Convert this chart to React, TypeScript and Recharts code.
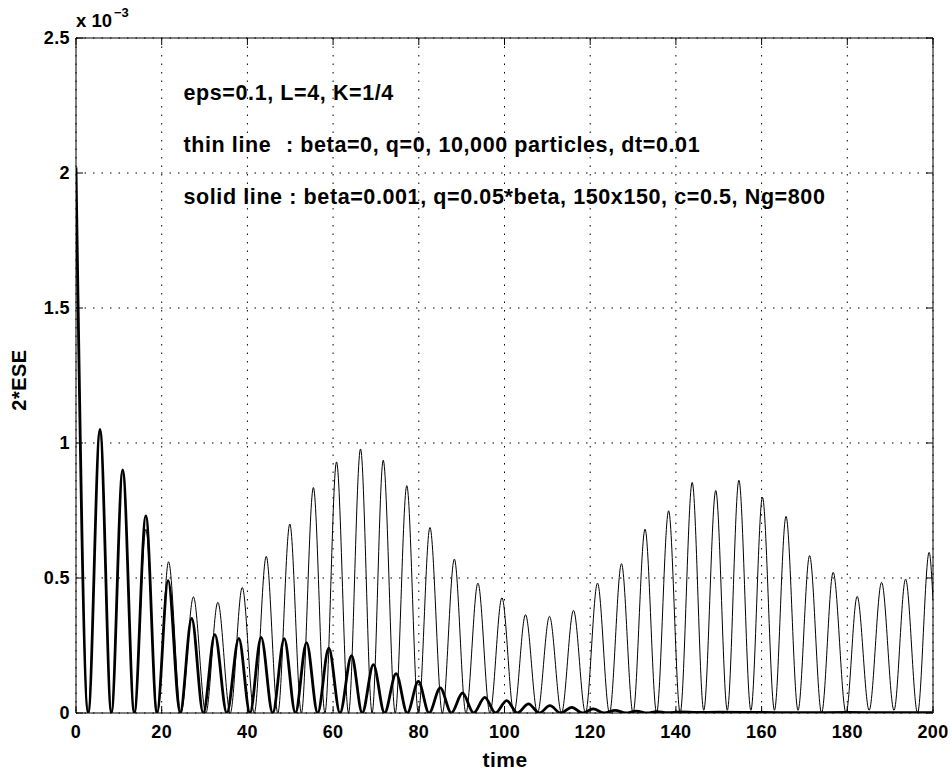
import React from 'react'
import { LineChart, Line, XAxis, YAxis, CartesianGrid, ReferenceLine } from 'recharts'

// values are in units of 1e-3 (axis carries the "x 10^-3" factor)
const thinTime = [
  0, 2.85, 5.6, 8.25, 10.9, 13.6, 16.3, 19.0, 21.6, 24.5, 27.4, 30.3, 33.1, 36.0, 38.8, 41.6,
  44.4, 47.1, 49.9, 52.6, 55.4, 58.1, 60.8, 63.6, 66.4, 69.1, 71.7, 74.5, 77.2, 79.9, 82.6, 85.5,
  88.3, 91.0, 93.8, 96.6, 99.4, 102.2, 104.9, 107.7, 110.5, 113.3, 116.1, 118.9, 121.7, 124.5,
  127.3, 130.0, 132.8, 135.5, 138.3, 141.0, 143.8, 146.5, 149.3, 152.0, 154.7, 157.5, 160.2,
  163.0, 165.7, 168.5, 171.2, 174.0, 176.7, 179.7, 182.3, 185.1, 188.0, 190.9, 193.6, 196.4,
  199.1, 200,
]
const thinValue = [
  2.02, 0, 1.05, 0, 0.9, 0, 0.68, 0, 0.56, 0, 0.43, 0, 0.41, 0, 0.465, 0,
  0.58, 0, 0.7, 0, 0.835, 0, 0.93, 0, 0.978, 0, 0.936, 0, 0.842, 0, 0.687, 0,
  0.57, 0, 0.481, 0, 0.427, 0, 0.364, 0, 0.358, 0, 0.38, 0, 0.481, 0,
  0.553, 0, 0.681, 0, 0.749, 0, 0.854, 0.01, 0.824, 0.01, 0.862, 0.01, 0.799,
  0.01, 0.728, 0.01, 0.583, 0, 0.521, 0, 0.432, 0.01, 0.484, 0.01, 0.496, 0,
  0.595, 0.42,
]

const thickTime = [
  0, 2.85, 5.6, 8.25, 10.9, 13.6, 16.3, 18.9, 21.5, 24.3, 27.0, 29.7, 32.4, 35.2, 38.0, 40.6,
  43.2, 45.9, 48.6, 51.2, 53.8, 56.4, 59.0, 61.6, 64.3, 66.8, 69.4, 72.0, 74.7, 77.3, 79.9,
  82.4, 85.0, 87.6, 90.2, 92.8, 95.4, 97.9, 100.5, 103.0, 105.6, 108.1, 110.6, 113.1, 115.7,
  118.2, 120.7, 123.3, 125.8, 128.3, 130.8, 133.3, 135.5, 138, 141, 145, 150, 160, 170, 180,
  190, 200,
]
const thickValue = [
  2.02, 0, 1.05, 0, 0.9, 0, 0.73, 0, 0.49, 0, 0.35, 0, 0.29, 0, 0.276, 0,
  0.28, 0, 0.275, 0, 0.261, 0, 0.24, 0, 0.212, 0, 0.179, 0, 0.146, 0, 0.117,
  0, 0.093, 0, 0.074, 0, 0.058, 0, 0.046, 0, 0.034, 0, 0.027, 0, 0.021,
  0, 0.015, 0, 0.01, 0, 0.007, 0, 0.005, 0.001, 0.004, 0.002, 0.003, 0.002, 0.001, 0.002,
  0.001, 0.001,
]

const xTicks = [0, 20, 40, 60, 80, 100, 120, 140, 160, 180, 200]
const yTicks = [0, 0.5, 1, 1.5, 2, 2.5]
const yTickLabels = ['0', '0.5', '1', '1.5', '2', '2.5']

const annotations = [
  'eps=0.1, L=4, K=1/4',
  'thin line',
  'solid line : beta=0.001, q=0.05*beta, 150x150, c=0.5, Ng=800',
]
const thinNote = ': beta=0, q=0, 10,000 particles, dt=0.01'

const thinData = thinTime.map((t, i) => ({ t, v: thinValue[i] }))
const thickData = thickTime.map((t, i) => ({ t, v: thickValue[i] }))

const W = 951
const H = 771
const TOP = 38
const BOTTOM = 713
const LEFT = 76
const RIGHT = 933
const FONT = '"Liberation Sans", Arial, Helvetica, sans-serif'

const XTick = (props: any) => {
  const { x, payload } = props
  return (
    <g>
      <line x1={x} x2={x} y1={BOTTOM} y2={BOTTOM - 7} stroke="#000" />
      <line x1={x} x2={x} y1={TOP} y2={TOP + 7} stroke="#000" />
      <text x={x} y={737.5} textAnchor="middle" fontFamily={FONT} fontWeight="bold" fontSize={18} letterSpacing={0.4} fill="#000">
        {payload.value}
      </text>
    </g>
  )
}

const YTick = (props: any) => {
  const { y, payload, index } = props
  return (
    <g>
      <line x1={LEFT} x2={LEFT + 7} y1={y} y2={y} stroke="#000" />
      <line x1={RIGHT} x2={RIGHT - 7} y1={y} y2={y} stroke="#000" />
      <text x={70} y={y} dy="0.36em" textAnchor="end" fontFamily={FONT} fontWeight="bold" fontSize={18} letterSpacing={0.4} fill="#000">
        {yTickLabels[index] ?? payload.value}
      </text>
    </g>
  )
}

export default function App() {
  return (
    <div style={{ position: 'absolute', left: 0, top: 0, width: W, height: H, background: '#fff' }}>
      <LineChart width={W} height={H} margin={{ top: TOP, right: W - RIGHT, left: 0, bottom: 0 }}>
        <CartesianGrid stroke="#000" strokeDasharray="1.5 7" strokeWidth={1} />
        <XAxis
          type="number"
          dataKey="t"
          domain={[0, 200]}
          ticks={xTicks}
          interval={0}
          height={H - BOTTOM}
          axisLine={{ stroke: '#000' }}
          tickLine={false}
          tick={<XTick />}
          allowDataOverflow
        />
        <YAxis
          type="number"
          domain={[0, 2.5]}
          ticks={yTicks}
          interval={0}
          width={LEFT}
          axisLine={{ stroke: '#000' }}
          tickLine={false}
          tick={<YTick />}
          allowDataOverflow
        />
        <ReferenceLine y={2.5} stroke="#000" strokeWidth={1} />
        <ReferenceLine x={200} stroke="#000" strokeWidth={1} />
        <Line
          data={thinData}
          dataKey="v"
          type="monotone"
          stroke="#000"
          strokeWidth={1}
          dot={false}
          activeDot={false}
          isAnimationActive={false}
        />
        <Line
          data={thickData}
          dataKey="v"
          type="monotone"
          stroke="#000"
          strokeWidth={2.8}
          dot={false}
          activeDot={false}
          isAnimationActive={false}
        />
      </LineChart>
      <svg width={W} height={H} style={{ position: 'absolute', left: 0, top: 0, pointerEvents: 'none' }}>
        <g fontFamily={FONT} fontWeight="bold" fill="#000">
          <text x={76} y={26.5} fontSize={18.5}>
            x 10
          </text>
          <text x={114} y={16.5} fontSize={13}>
            −3
          </text>
          <text x={183.5} y={99.5} fontSize={21.5} letterSpacing={0.6}>
            {annotations[0]}
          </text>
          <text x={183.5} y={152} fontSize={21.5} letterSpacing={0.6}>
            {annotations[1]}
          </text>
          <text x={286} y={152} fontSize={21.5} letterSpacing={0.6}>
            {thinNote}
          </text>
          <text x={183.5} y={204} fontSize={21.5} letterSpacing={0.6}>
            {annotations[2]}
          </text>
          <text x={505} y={766.5} fontSize={21} letterSpacing={0.5} textAnchor="middle">
            time
          </text>
          <text x={26} y={380} fontSize={20} letterSpacing={0.5} textAnchor="middle" transform="rotate(-90 26 380)">
            2*ESE
          </text>
        </g>
      </svg>
    </div>
  )
}
